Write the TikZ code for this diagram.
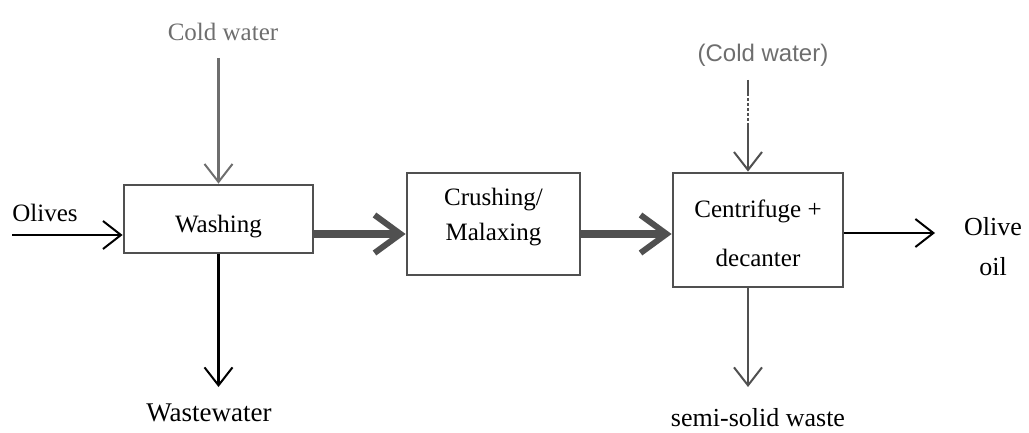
\documentclass[tikz,border=0pt]{standalone}
\usepackage{fontspec}
\setmainfont{Liberation Serif}
\newfontfamily\labelsans{Liberation Sans}
\usetikzlibrary{arrows.meta}
\definecolor{boxgray}{HTML}{505050}
\definecolor{watergray}{HTML}{6E6E6E}

\begin{document}
\begin{tikzpicture}[x=0.5pt, y=-0.5pt,
				stage/.style={rectangle, draw=boxgray, line width=1.4pt, inner sep=0pt},
				boxtext/.style={align=center, inner sep=0pt, font=\fontsize{12.5}{15}\selectfont},
				flow/.style={line width=1.3pt, -{Straight Barb[length=9pt, width=14pt, line width=1pt]}},
				mainflow/.style={draw=boxgray, line width=4pt, -{Straight Barb[length=13pt, width=19pt, line width=3pt]}},
				txt/.style={font=\fontsize{12.5}{15}\selectfont, inner sep=0pt}
				]
				
				\useasboundingbox (0,0) rectangle (1029,433);
				
				\node[stage, minimum width=94.5pt, minimum height=34pt,
					label={[boxtext, yshift=-4pt]center:Washing}] (wash) at (218.5,219) {};
				\node[stage, minimum width=86.5pt, minimum height=51pt,
					label={[boxtext, yshift=3.5pt]center:Crushing/\\[2.5pt]Malaxing}] (crush) at (493.5,224) {};
				\node[stage, minimum width=85pt, minimum height=57pt,
					label={[boxtext, yshift=-1.8pt]center:Centrifuge +\\[9.5pt]decanter}] (cf) at (758,230) {};
				
				\node[txt] (olives) at (45,213) {Olives};
				\node[txt, text=watergray] (cw) at (223,32) {Cold water};
				\node[txt, font=\fontsize{13.5}{16}\selectfont] (ww) at (209,413) {Wastewater};
				\node[txt, font=\labelsans\fontsize{12}{14}\selectfont, text=watergray] (cw2) at (763,55) {(Cold water)};
				\node[txt, font=\fontsize{13}{16}\selectfont] (ssw) at (758,418) {semi-solid waste};
				\node[txt, align=center, font=\fontsize{13}{20}\selectfont] (oil) at (993,247) {Olive\\oil};
				
				\coordinate (oin) at (12,235);
				\coordinate (cwin) at (218.5,58);
				\coordinate (wwout) at (218.5,387);
				\coordinate (cw2in) at (748,80);
				\coordinate (sswout) at (748,387);
				\coordinate (oilout) at (935,233);
				\coordinate (mid) at (0,234);
				
				\draw[flow] (oin) -- (oin -| wash.west);
				\draw[flow, draw=watergray] (cwin) -- (wash.north);
				\draw[flow] (wash.south) -- (wwout);
				\draw[mainflow] (wash.east |- mid) -- (crush.west |- mid);
				\draw[mainflow] (crush.east |- mid) -- (cf.west |- mid);
				\draw[flow, draw=boxgray, dash pattern=on 8pt off 1pt on 1.5pt off 1pt on 1.5pt off 1pt on 1.5pt off 1pt on 1.5pt off 1pt on 1.5pt off 1pt on 60pt] (cw2in) -- (cw2in |- cf.north);
				\draw[flow, draw=boxgray] (sswout |- cf.south) -- (sswout);
				\draw[flow] (cf.east |- oilout) -- (oilout);
				
			\end{tikzpicture}
\end{document}
